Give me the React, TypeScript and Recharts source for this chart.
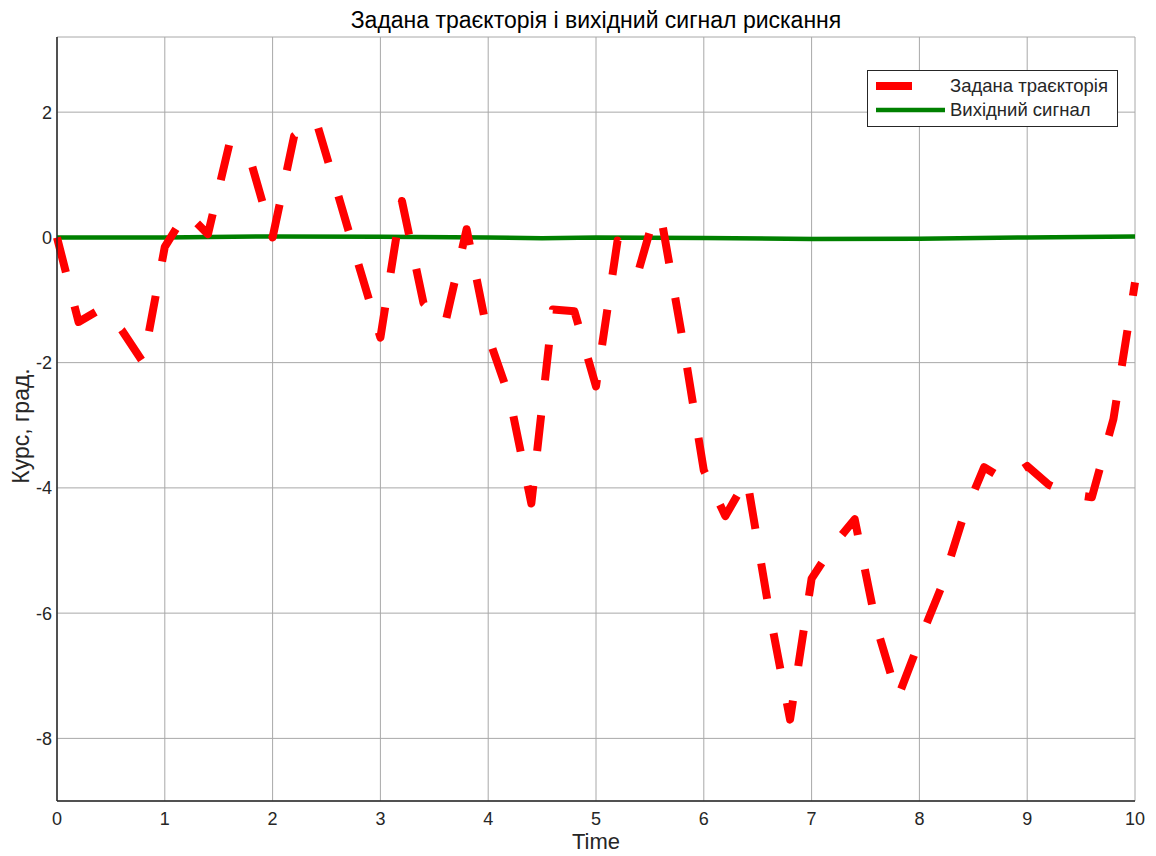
import React from 'react';
import { LineChart, Line, XAxis, YAxis, CartesianGrid, Legend } from 'recharts';

// Задана траєкторія (вершини)
const refTime = [
  0, 0.2, 0.4, 0.6, 0.8, 1.0, 1.2, 1.4, 1.6, 1.8, 2.0, 2.2, 2.4, 2.6, 2.8, 3.0, 3.2, 3.4, 3.6, 3.8,
  4.0, 4.2, 4.4, 4.6, 4.8, 5.0, 5.2, 5.4, 5.5, 5.6, 5.8, 6.0, 6.2, 6.4, 6.6, 6.8, 7.0, 7.2, 7.4, 7.6,
  7.8, 8.0, 8.2, 8.4, 8.6, 8.8, 9.0, 9.2, 9.4, 9.6, 9.8, 10,
];
const refValues = [
  0, -1.35, -1.15, -1.48, -2.0, -0.15, 0.4, 0.05, 1.5, 1.2, 0.0, 1.62, 1.88, 0.72, -0.45, -1.6, 0.58, -1.05, -1.38, 0.13,
  -1.58, -2.57, -4.25, -1.15, -1.18, -2.38, -0.05, -0.5, 0.1, 0.36, -1.6, -3.72, -4.45, -3.85, -5.9, -7.7, -5.45, -4.92, -4.5, -6.2,
  -7.35, -6.45, -5.6, -4.5, -3.67, -3.88, -3.65, -3.95, -4.1, -4.15, -2.9, -0.72,
];

// Вихідний сигнал
const outTime = [0, 1, 2, 3, 4, 4.5, 5, 6, 7, 8, 9, 10];
const outValues = [0, 0, 0.015, 0.01, 0, -0.015, 0, -0.01, -0.025, -0.02, 0, 0.015];

const xTicks = [0, 1, 2, 3, 4, 5, 6, 7, 8, 9, 10];
const yTicks = [-8, -6, -4, -2, 0, 2];
const xDomain: [number, number] = [0, 10];
const yDomain: [number, number] = [-9, 3.2];

const legendOrder = ['Задана траєкторія', 'Вихідний сигнал'];

const FONT = '"Liberation Sans", Arial, Helvetica, sans-serif';
const AXIS = '#262626';

const refData = refTime.map((t, i) => ({ t, v: refValues[i] }));
const outData = outTime.map((t, i) => ({ t, v: outValues[i] }));

function LegendBox(props: any) {
  const items = [...(props.payload || [])].sort(
    (a: any, b: any) => legendOrder.indexOf(a.value) - legendOrder.indexOf(b.value),
  );
  return (
    <svg width={251} height={57} style={{ display: 'block' }}>
      <rect x={0.5} y={0.5} width={250} height={56} fill="#fff" stroke={AXIS} strokeWidth={1} />
      {items.map((it: any, i: number) => {
        const cy = 16 + i * 24;
        const p = it.payload || {};
        return (
          <g key={it.value}>
            <line
              x1={9}
              x2={78}
              y1={cy}
              y2={cy}
              stroke={it.color}
              strokeWidth={p.strokeWidth || 4}
              strokeDasharray={p.strokeDasharray}
            />
            <text x={83} y={cy} dy="0.35em" fontSize={18.5} fontFamily={FONT} fill={AXIS}>
              {it.value}
            </text>
          </g>
        );
      })}
    </svg>
  );
}

export default function App() {
  return (
    <div style={{ position: 'absolute', left: 0, top: 0, width: 1156, height: 856, background: '#fff', fontFamily: FONT }}>
      <div
        style={{
          position: 'absolute',
          left: 57,
          width: 1078,
          top: 6,
          textAlign: 'center',
          fontSize: 23,
          color: '#000',
          lineHeight: '28px',
        }}
      >
        Задана траєкторія і вихідний сигнал рискання
      </div>
      <LineChart width={1156} height={856} margin={{ top: 37, right: 21, bottom: 0, left: 0 }}>
        <CartesianGrid stroke="#a8a8a8" strokeWidth={1} />
        <XAxis
          xAxisId={0}
          dataKey="t"
          type="number"
          domain={xDomain}
          ticks={xTicks}
          height={55}
          tickLine={false}
          tickSize={0}
          tickMargin={11}
          axisLine={{ stroke: AXIS, strokeWidth: 1.5 }}
          tick={{ fill: AXIS, fontSize: 18, fontFamily: FONT }}
          label={{
            content: (p: any) => {
              const vb = p.viewBox;
              return (
                <text x={vb.x + vb.width / 2} y={vb.y + 48} textAnchor="middle" fontSize={22} fontFamily={FONT} fill={AXIS}>
                  Time
                </text>
              );
            },
          }}
        />
        <XAxis xAxisId="bt" type="number" domain={xDomain} ticks={xTicks} orientation="bottom" mirror height={0} tick={false} tickSize={10} axisLine={false} tickLine={{ stroke: AXIS, strokeWidth: 1.5 }} />
        <XAxis xAxisId="tp" type="number" domain={xDomain} ticks={xTicks} orientation="top" mirror height={0} tick={false} tickSize={10} axisLine={{ stroke: AXIS, strokeWidth: 1.5 }} tickLine={{ stroke: AXIS, strokeWidth: 1.5 }} />
        <YAxis
          yAxisId={0}
          type="number"
          domain={yDomain}
          ticks={yTicks}
          width={57}
          tickLine={false}
          tickSize={0}
          tickMargin={5}
          axisLine={{ stroke: AXIS, strokeWidth: 1.5 }}
          tick={{ fill: AXIS, fontSize: 18, fontFamily: FONT }}
          label={{
            content: (p: any) => {
              const vb = p.viewBox;
              const cx = vb.x + 21;
              const cy = vb.y + vb.height / 2 + 7;
              return (
                <text
                  x={cx}
                  y={cy}
                  transform={`rotate(-90 ${cx} ${cy})`}
                  textAnchor="middle"
                  dy="0.35em"
                  fontSize={23}
                  fontFamily={FONT}
                  fill={AXIS}
                >
                  Курс, град.
                </text>
              );
            },
          }}
        />
        <YAxis yAxisId="lm" type="number" domain={yDomain} ticks={yTicks} orientation="left" mirror width={0} tick={false} tickSize={10} axisLine={false} tickLine={{ stroke: AXIS, strokeWidth: 1.5 }} />
        <YAxis yAxisId="rt" type="number" domain={yDomain} ticks={yTicks} orientation="right" mirror width={0} tick={false} tickSize={10} axisLine={{ stroke: AXIS, strokeWidth: 1.5 }} tickLine={{ stroke: AXIS, strokeWidth: 1.5 }} />
        <Legend
          layout="vertical"
          align="center"
          verticalAlign="middle"
          content={LegendBox}
          wrapperStyle={{ left: 867, top: 70, width: 251, height: 57 }}
        />
        <Line
          data={outData}
          dataKey="v"
          name="Вихідний сигнал"
          type="linear"
          stroke="#008000"
          strokeWidth={4.5}
          dot={false}
          activeDot={false}
          isAnimationActive={false}
        />
        <Line
          data={refData}
          dataKey="v"
          name="Задана траєкторія"
          type="linear"
          stroke="#ff0000"
          strokeWidth={8}
          strokeDasharray="36 35"
          strokeLinejoin="round"
          dot={false}
          activeDot={false}
          isAnimationActive={false}
        />
      </LineChart>
    </div>
  );
}
